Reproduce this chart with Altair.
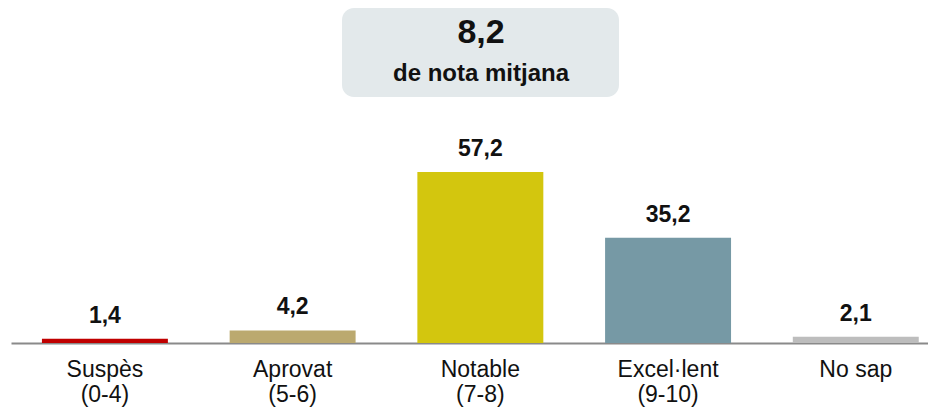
import altair as alt
import pandas as pd

# ---- data ----
categories = ["Suspès|(0-4)", "Aprovat|(5-6)", "Notable|(7-8)", "Excel·lent|(9-10)", "No sap"]
values = [1.4, 4.2, 57.2, 35.2, 2.1]
colors = ["#c00000", "#bba96f", "#d3c60e", "#7699a5", "#bdbdbd"]
mean_value = "8,2"
mean_caption = "de nota mitjana"

df = pd.DataFrame({
    "cat": categories,
    "value": values,
    "label": [f"{v:.1f}".replace(".", ",") for v in values],
})

FONT = "Liberation Sans"

x = alt.X("cat:N", sort=categories, title=None,
          scale=alt.Scale(paddingInner=0.329, paddingOuter=0.107, align=0.77),
          axis=alt.Axis(labelAngle=0, ticks=False, domainColor="#8a8a8a", domainWidth=2,
                        labelFont=FONT, labelFontSize=23, labelColor="#111111",
                        labelPadding=15, labelLineHeight=25,
                        labelExpr="split(datum.label, '|')"))
y = alt.Y("value:Q", scale=alt.Scale(domain=[0, 112.0]), axis=None)

base = alt.Chart(df)

bars = base.mark_bar().encode(
    x=x, y=y,
    color=alt.Color("cat:N", scale=alt.Scale(domain=categories, range=colors), legend=None),
)

bar_labels = base.mark_text(font=FONT, fontSize=23, fontWeight="bold", color="#111111",
                            dy=-16, baseline="alphabetic").encode(
    x=x, y=y, text="label:N")

box_df = pd.DataFrame({"v": [mean_value], "c": [mean_caption]})
box = alt.Chart(box_df).mark_rect(color="#e3e9eb", cornerRadius=12).encode(
    x=alt.value(331), x2=alt.value(608), y=alt.value(0), y2=alt.value(89))
t1 = alt.Chart(box_df).mark_text(font=FONT, fontSize=34, fontWeight="bold", color="#111111",
                                 baseline="alphabetic").encode(
    x=alt.value(470), y=alt.value(35), text="v:N")
t2 = alt.Chart(box_df).mark_text(font=FONT, fontSize=24, fontWeight="bold", color="#111111",
                                 baseline="alphabetic").encode(
    x=alt.value(470), y=alt.value(73), text="c:N")

chart = alt.layer(box, t1, t2, bars, bar_labels).properties(
    width=917, height=335,
    padding={"left": 3, "top": 0, "right": 0, "bottom": 64},
    autosize="none",
).configure(background="white").configure_view(stroke=None)

chart.save("out.html", embed_options={"renderer": "svg", "actions": False})
